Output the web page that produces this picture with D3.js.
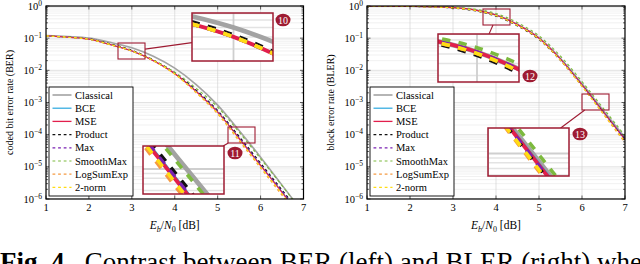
<!DOCTYPE html>
<html>
<head>
<meta charset="utf-8">
<script src="https://cdn.jsdelivr.net/npm/d3@7"></script>
<style>
  body { margin: 0; background: #fff; }
  svg { display: block; }
</style>
</head>
<body>
<div id="chart"></div>
<script>
// Eb/N0 grid [dB]
const ebn0 = [1, 1.5, 2, 2.5, 3, 3.5, 4, 4.5, 5, 5.5, 6, 6.5, 7];

// coded bit error rate (left)
const berClassical = [0.120, 0.112, 0.100, 0.074, 0.050, 0.0275, 0.0117, 3.6e-3, 8.3e-4, 1.35e-4, 2.0e-5, 2.7e-6, 3.6e-7];
const berBCE       = [0.117, 0.107, 0.093, 0.063, 0.040, 0.020, 8.0e-3, 2.25e-3, 5.2e-4, 7.9e-5, 1.15e-5, 1.7e-6, 2.4e-7];
const berMSE       = [0.117, 0.107, 0.093, 0.063, 0.040, 0.020, 7.9e-3, 2.2e-3, 5.0e-4, 7.6e-5, 1.1e-5, 1.6e-6, 2.2e-7];
const berProduct   = [0.117, 0.108, 0.095, 0.066, 0.042, 0.021, 8.4e-3, 2.4e-3, 5.6e-4, 8.8e-5, 1.3e-5, 1.9e-6, 2.8e-7];
const berMax       = [0.117, 0.107, 0.093, 0.063, 0.040, 0.020, 8.0e-3, 2.25e-3, 5.2e-4, 7.9e-5, 1.15e-5, 1.7e-6, 2.4e-7];
const berSmoothMax = [0.117, 0.107, 0.093, 0.063, 0.040, 0.0204, 8.7e-3, 2.75e-3, 7.2e-4, 1.2e-4, 1.8e-5, 2.6e-6, 3.5e-7];
const berLogSumExp = [0.117, 0.107, 0.093, 0.063, 0.040, 0.020, 7.6e-3, 2.0e-3, 4.4e-4, 6.4e-5, 9.3e-6, 1.3e-6, 1.9e-7];
const ber2norm     = [0.117, 0.107, 0.093, 0.063, 0.040, 0.020, 7.7e-3, 2.1e-3, 4.7e-4, 7.0e-5, 1.0e-5, 1.45e-6, 2.0e-7];

// block error rate (right)
const blerClassical = [0.9931, 0.9863, 0.9772, 0.9550, 0.8913, 0.7586, 0.5248, 0.2661, 0.1023, 0.0234, 3.80e-3, 5.50e-4, 8.1e-5];
const blerBCE       = [0.9931, 0.9863, 0.9772, 0.9550, 0.8913, 0.7586, 0.5248, 0.2642, 0.1012, 0.0229, 3.63e-3, 5.19e-4, 7.4e-5];
const blerMSE       = [0.9931, 0.9863, 0.9772, 0.9550, 0.8913, 0.7586, 0.5248, 0.2630, 0.1000, 0.0224, 3.55e-3, 5.01e-4, 7.1e-5];
const blerProduct   = [0.9908, 0.9817, 0.9705, 0.9397, 0.8610, 0.7161, 0.4842, 0.2399, 0.0912, 0.0204, 3.31e-3, 4.68e-4, 6.6e-5];
const blerMax       = [0.9931, 0.9863, 0.9772, 0.9550, 0.8913, 0.7586, 0.5248, 0.2600, 0.0989, 0.0219, 3.47e-3, 4.90e-4, 6.9e-5];
const blerSmoothMax = [0.9954, 0.9908, 0.9840, 0.9683, 0.9184, 0.8035, 0.5821, 0.3020, 0.1175, 0.0275, 4.47e-3, 6.46e-4, 9.3e-5];
const blerLogSumExp = [0.9931, 0.9840, 0.9727, 0.9462, 0.8750, 0.7362, 0.5047, 0.2500, 0.0944, 0.0204, 3.16e-3, 4.27e-4, 5.6e-5];
const bler2norm     = [0.9931, 0.9840, 0.9727, 0.9462, 0.8750, 0.7379, 0.5070, 0.2512, 0.0955, 0.0209, 3.24e-3, 4.47e-4, 6.2e-5];

const seriesNames = ["Classical", "BCE", "MSE", "Product", "Max", "SmoothMax", "LogSumExp", "2-norm"];
const xTicks = [1, 2, 3, 4, 5, 6, 7];
const yTicks = [1e0, 1e-1, 1e-2, 1e-3, 1e-4, 1e-5, 1e-6];

const berData = [berClassical, berBCE, berMSE, berProduct, berMax, berSmoothMax, berLogSumExp, ber2norm];
const blerData = [blerClassical, blerBCE, blerMSE, blerProduct, blerMax, blerSmoothMax, blerLogSumExp, bler2norm];

const styles = [
  { color: "#a3a3a3", dash: null, width: 1.6 },
  { color: "#2aa7df", dash: null, width: 0.9 },
  { color: "#e21f4c", dash: null, width: 1.3 },
  { color: "#111111", dash: "2.8,2.8", width: 1.2 },
  { color: "#7a21b3", dash: "2.8,2.8", width: 1.2 },
  { color: "#7dba3f", dash: "2.8,2.8", width: 1.2 },
  { color: "#f59a42", dash: "2.8,2.8", width: 1.2 },
  { color: "#ffdc14", dash: "2.8,2.8", width: 1.2 },
];

const W = 640, H = 264;
const accent = "#9e1b32";
const serif = "'Liberation Serif', 'Times New Roman', 'DejaVu Serif', serif";

const svg = d3.select("#chart").append("svg")
  .attr("width", W).attr("height", H)
  .attr("font-family", serif)
  .style("font-family", serif);

const defs = svg.append("defs");
let clipId = 0;

function drawPanel(cfg) {
  const x = d3.scaleLinear().domain([1, 7]).range([cfg.left, cfg.right]);
  const y = d3.scaleLog().domain([1e-6, 1]).range([199, 6]);
  const line = d3.line()
    .x((d, i) => x(ebn0[i]))
    .y(d => y(d))
    .curve(d3.curveMonotoneX);

  // grid + curves, reused for the magnified insets
  function content(g) {
    const minor = [];
    for (let e = -6; e < 0; e++) for (let k = 2; k <= 9; k++) minor.push(k * Math.pow(10, e));
    g.append("rect")
      .attr("x", x(1)).attr("y", y(1))
      .attr("width", x(7) - x(1)).attr("height", y(1e-6) - y(1))
      .attr("fill", "#fff");
    g.selectAll(".minor").data(minor).join("line")
      .attr("x1", x(1)).attr("x2", x(7))
      .attr("y1", d => y(d)).attr("y2", d => y(d))
      .attr("stroke", "#e3e3e3").attr("stroke-width", 0.5);
    g.selectAll(".hmaj").data(yTicks).join("line")
      .attr("x1", x(1)).attr("x2", x(7))
      .attr("y1", d => y(d)).attr("y2", d => y(d))
      .attr("stroke", "#cfcfcf").attr("stroke-width", 0.6);
    g.selectAll(".vmaj").data(xTicks).join("line")
      .attr("y1", y(1)).attr("y2", y(1e-6))
      .attr("x1", d => x(d)).attr("x2", d => x(d))
      .attr("stroke", "#cfcfcf").attr("stroke-width", 0.6);
    cfg.data.forEach((vals, i) => {
      g.append("path")
        .attr("d", line(vals))
        .attr("fill", "none")
        .attr("stroke", styles[i].color)
        .attr("stroke-width", styles[i].width)
        .attr("stroke-dasharray", styles[i].dash);
    });
  }

  // main plot area
  const cid = "clip" + (clipId++);
  defs.append("clipPath").attr("id", cid).append("rect")
    .attr("x", x(1)).attr("y", y(1))
    .attr("width", x(7) - x(1)).attr("height", y(1e-6) - y(1));
  content(svg.append("g").attr("clip-path", `url(#${cid})`));

  // ticks (inside, on all four sides)
  const ax = svg.append("g").attr("stroke", "#000").attr("stroke-width", 0.6);
  xTicks.forEach(t => {
    ax.append("line").attr("x1", x(t)).attr("x2", x(t)).attr("y1", y(1e-6)).attr("y2", y(1e-6) - 3.5);
    ax.append("line").attr("x1", x(t)).attr("x2", x(t)).attr("y1", y(1)).attr("y2", y(1) + 3.5);
  });
  for (let e = -6; e <= 0; e++) {
    ax.append("line").attr("x1", x(1)).attr("x2", x(1) + 3.5).attr("y1", y(Math.pow(10, e))).attr("y2", y(Math.pow(10, e)));
    ax.append("line").attr("x1", x(7)).attr("x2", x(7) - 3.5).attr("y1", y(Math.pow(10, e))).attr("y2", y(Math.pow(10, e)));
    if (e < 0) for (let k = 2; k <= 9; k++) {
      const v = k * Math.pow(10, e);
      ax.append("line").attr("x1", x(1)).attr("x2", x(1) + 2).attr("y1", y(v)).attr("y2", y(v));
      ax.append("line").attr("x1", x(7)).attr("x2", x(7) - 2).attr("y1", y(v)).attr("y2", y(v));
    }
  }

  // frame
  svg.append("rect")
    .attr("x", x(1)).attr("y", y(1))
    .attr("width", x(7) - x(1)).attr("height", y(1e-6) - y(1))
    .attr("fill", "none").attr("stroke", "#000").attr("stroke-width", 1.2);

  // tick labels
  svg.append("g").selectAll("text").data(xTicks).join("text")
    .attr("x", d => x(d)).attr("y", 211)
    .attr("text-anchor", "middle").attr("font-size", 10.5)
    .text(d => d);
  const yl = svg.append("g").selectAll("text").data(yTicks).join("text")
    .attr("x", x(1) - 4).attr("y", d => y(d) + 3.5)
    .attr("text-anchor", "end").attr("font-size", 10.5);
  yl.append("tspan").text("10");
  yl.append("tspan").attr("font-size", 7.5).attr("dy", -4)
    .text(d => { const e = Math.round(Math.log10(d)); return e === 0 ? "0" : "\u2212" + (-e); });

  // axis labels
  const xl = svg.append("text")
    .attr("x", (x(1) + x(7)) / 2).attr("y", 229)
    .attr("text-anchor", "middle").attr("font-size", 11.5);
  xl.append("tspan").attr("font-style", "italic").text("E");
  xl.append("tspan").attr("font-style", "italic").attr("font-size", 8).attr("dy", 2.5).text("b");
  xl.append("tspan").attr("dy", -2.5).text("/");
  xl.append("tspan").attr("font-style", "italic").text("N");
  xl.append("tspan").attr("font-size", 8).attr("dy", 2.5).text("0");
  xl.append("tspan").attr("dy", -2.5).text(" [dB]");

  svg.append("text")
    .attr("transform", `translate(${cfg.left - 33},${(y(1) + y(1e-6)) / 2}) rotate(-90)`)
    .attr("text-anchor", "middle").attr("font-size", 10)
    .text(cfg.ylabel);

  // legend
  const lg = svg.append("g").attr("transform", `translate(${cfg.left + 3},87)`);
  lg.append("rect").attr("width", 84).attr("height", 109)
    .attr("fill", "#fff").attr("stroke", "#000").attr("stroke-width", 0.9);
  seriesNames.forEach((name, i) => {
    const yy = 8 + i * 13.2;
    lg.append("line").attr("x1", 3.5).attr("x2", 22.5).attr("y1", yy).attr("y2", yy)
      .attr("stroke", styles[i].color).attr("stroke-width", Math.max(styles[i].width, 1.2))
      .attr("stroke-dasharray", styles[i].dash);
    lg.append("text").attr("x", 26).attr("y", yy + 3.5).attr("font-size", 10.5).text(name);
  });

  // spy insets (magnified 3x)
  cfg.spies.forEach(s => {
    const k = 3, sw = 27, sh = 16;
    const ix = s.ix, iy = s.iy, iw = sw * k, ih = sh * k;
    // connection between centres, cut at the borders
    const c0 = [s.sx + sw / 2, s.sy + sh / 2], c1 = [ix + iw / 2, iy + ih / 2];
    const dx = c1[0] - c0[0], dy = c1[1] - c0[1];
    const t0 = Math.min(Math.abs(sw / 2 / dx), Math.abs(sh / 2 / dy));
    const t1 = 1 - Math.min(Math.abs(iw / 2 / dx), Math.abs(ih / 2 / dy));
    svg.append("line")
      .attr("x1", c0[0] + dx * t0).attr("y1", c0[1] + dy * t0)
      .attr("x2", c0[0] + dx * t1).attr("y2", c0[1] + dy * t1)
      .attr("stroke", accent).attr("stroke-width", 1.1);

    svg.append("rect").attr("x", s.sx).attr("y", s.sy).attr("width", sw).attr("height", sh)
      .attr("fill", "none").attr("stroke", accent).attr("stroke-width", 1.1);

    const id = "clip" + (clipId++);
    defs.append("clipPath").attr("id", id).append("rect")
      .attr("x", ix).attr("y", iy).attr("width", iw).attr("height", ih);
    const outer = svg.append("g").attr("clip-path", `url(#${id})`);
    outer.append("rect").attr("x", ix).attr("y", iy).attr("width", iw).attr("height", ih).attr("fill", "#fff");
    content(outer.append("g")
      .attr("transform", `translate(${ix},${iy}) scale(${k}) translate(${-s.sx},${-s.sy})`));
    svg.append("rect").attr("x", ix).attr("y", iy).attr("width", iw).attr("height", ih)
      .attr("fill", "none").attr("stroke", accent).attr("stroke-width", 1.5);

    svg.append("ellipse").attr("cx", s.bx).attr("cy", s.by).attr("rx", 7.5).attr("ry", 6.3)
      .attr("fill", accent);
    svg.append("text").attr("x", s.bx).attr("y", s.by + 3.5)
      .attr("text-anchor", "middle").attr("font-size", 10).attr("fill", "#fff")
      .text(s.label);
  });
}

drawPanel({
  left: 46, right: 303.5, data: berData, ylabel: "coded bit error rate (BER)",
  spies: [
    { sx: 118, sy: 43, ix: 192, iy: 13, bx: 283, by: 20, label: "10" },
    { sx: 228, sy: 127, ix: 143, iy: 146, bx: 235, by: 153, label: "11" },
  ],
});

drawPanel({
  left: 367, right: 625, data: blerData, ylabel: "block error rate (BLER)",
  spies: [
    { sx: 483, sy: 9, ix: 438, iy: 34, bx: 530, by: 76, label: "12" },
    { sx: 582, sy: 94, ix: 488, iy: 128, bx: 580, by: 134, label: "13" },
  ],
});

// caption, cut off by the bottom edge as in the page it was taken from
const cap = svg.append("text").attr("x", 0).attr("y", 271).attr("font-size", 27);
cap.append("tspan").attr("font-weight", "bold").text("Fig. 4.");
cap.append("tspan").text("\u2002Contrast between BER (left) and BLER (right) when");
</script>
</body>
</html>
